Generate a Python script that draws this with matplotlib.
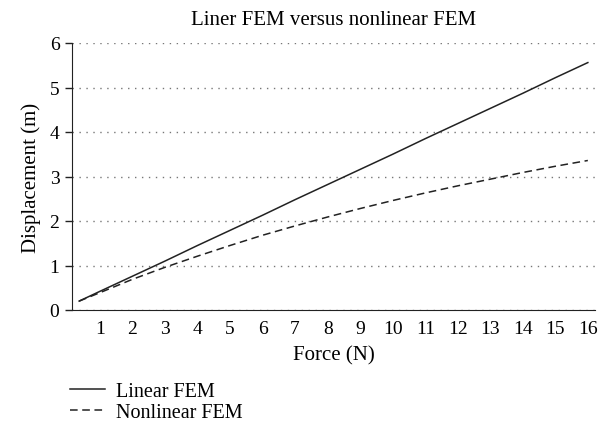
import numpy as np
import matplotlib.pyplot as plt

plt.rcParams['font.family'] = ['Liberation Serif', 'DejaVu Serif']

force = [0.36, 1, 2, 3, 4, 5, 6, 7, 8, 9, 10, 11, 12, 13, 14, 15, 16]
linear = [0.2, 0.42, 0.76, 1.10, 1.45, 1.79, 2.13, 2.48, 2.82, 3.16, 3.50, 3.85, 4.19, 4.53, 4.87, 5.22, 5.56]
nonlinear = [0.2, 0.39, 0.69, 0.96, 1.21, 1.45, 1.68, 1.89, 2.09, 2.28, 2.46, 2.63, 2.79, 2.94, 3.09, 3.23, 3.36]

fig = plt.figure(figsize=(5.98, 4.35), dpi=100)
ax = fig.add_axes([72 / 598, 1 - 311 / 435, (595 - 72) / 598, (311 - 44) / 435])

l1, = ax.plot(force, linear, color='#222222', lw=1.1, label='Linear FEM')
l2, = ax.plot(force, nonlinear, color='#222222', lw=1.1, ls=(0, (5, 3)), label='Nonlinear FEM')

ax.set_xlim(0.14, 16.22)
ax.set_ylim(0, 6)
ax.set_xticks(range(1, 17))
ax.set_yticks(range(0, 7))
ax.tick_params(axis='x', length=0, labelsize=14, pad=7)
ax.tick_params(axis='y', length=5, width=1, color='#222222', labelsize=14, pad=4)
ax.yaxis.grid(True, ls=(0, (1, 4)), color='#777777', lw=1)
for s in ['top', 'right']:
    ax.spines[s].set_visible(False)
ax.spines['left'].set_color('#222222')
ax.spines['bottom'].set_color('#222222')

ax.set_title('Liner FEM versus nonlinear FEM', fontsize=15, pad=14)
ax.set_xlabel('Force (N)', fontsize=15, labelpad=6)
ax.set_ylabel('Displacement (m)', fontsize=15, labelpad=6)

fig.legend(handles=[l1, l2], loc='center left', bbox_to_anchor=(70 / 598, 1 - 403 / 435),
           frameon=False, fontsize=14.5, handlelength=1.75, handletextpad=0.55,
           labelspacing=0.08, borderaxespad=0, borderpad=0)

fig.savefig('out.png', dpi=100)
